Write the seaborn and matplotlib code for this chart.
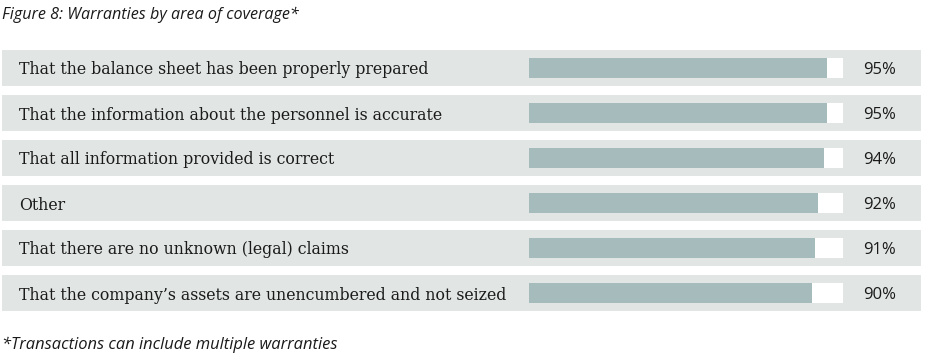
import matplotlib
matplotlib.use("Agg")
import matplotlib.pyplot as plt
import seaborn as sns
import pandas as pd

# chart data
categories = [
    "That the balance sheet has been properly prepared",
    "That the information about the personnel is accurate",
    "That all information provided is correct",
    "Other",
    "That there are no unknown (legal) claims",
    "That the company\u2019s assets are unencumbered and not seized",
]
shares = [95, 95, 94, 92, 91, 90]
pct_labels = ["95%", "95%", "94%", "92%", "91%", "90%"]

title = "Figure 8: Warranties by area of coverage*"
footnote = "*Transactions can include multiple warranties"

BAND = "#e1e5e4"
BAR = "#a5bbbc"
TEXT = "#1a1a1a"

sns.set_style("white")

W, H = 926, 355
fig = plt.figure(figsize=(W / 100, H / 100), dpi=100)

# axes spans the grey bands; x scale chosen so 0..100 sits at the track
track_left, track_right = 529, 843
px_per_unit = (track_right - track_left) / 100
band_left, band_right = 2, 921
xmin = (band_left - track_left) / px_per_unit
xmax = (band_right - track_left) / px_per_unit
top_px, bottom_px = 45.5, 315.5
ax = fig.add_axes([band_left / W, (H - bottom_px) / H,
                   (band_right - band_left) / W, (bottom_px - top_px) / H])

df = pd.DataFrame({"category": categories, "share": shares})
sns.barplot(data=df, x="share", y="category", orient="h", color=BAR,
            width=0.44, saturation=1, edgecolor="none", linewidth=0,
            ax=ax, zorder=3)

rows = range(len(categories))
ax.barh(list(rows), [xmax - xmin] * len(categories), left=xmin, height=0.78,
        color=BAND, linewidth=0, zorder=1)
ax.barh(list(rows), [100] * len(categories), left=0, height=0.44,
        color="white", linewidth=0, zorder=2)

for i, (cat, lab) in enumerate(zip(categories, pct_labels)):
    ax.text(xmin + 17 / px_per_unit, i, cat, ha="left", va="center_baseline",
            fontsize=11.35, family="DejaVu Serif", color=TEXT, zorder=4)
    ax.text(xmax - 25 / px_per_unit, i, lab, ha="right", va="center_baseline",
            fontsize=12, family="Open Sans", color=TEXT, zorder=4)

ax.set_xlim(xmin, xmax)
ax.set_ylim(len(categories) - 0.5, -0.5)
ax.set_axis_off()

fig.text(2 / W, 1 - 15 / H, title, ha="left", va="center", fontsize=11.6,
         family="Open Sans", style="italic", color=TEXT)
fig.text(2 / W, 1 - 345 / H, footnote, ha="left", va="center", fontsize=11.9,
         family="Open Sans", style="italic", color=TEXT)

fig.savefig("out.png", dpi=100, facecolor="white")
